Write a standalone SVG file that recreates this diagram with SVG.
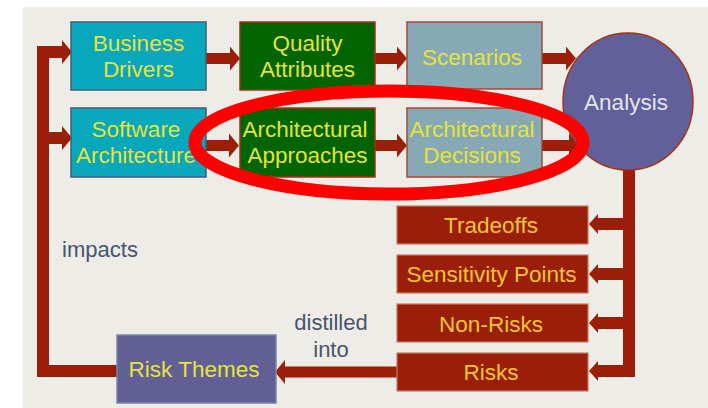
<svg xmlns="http://www.w3.org/2000/svg" width="708" height="408" viewBox="0 0 708 408">
<style>
  text { font-family: "Liberation Sans", Arial, sans-serif; font-size: 22.5px; text-anchor: middle; }
  .teal { fill: #08a7bc; stroke: #3f5d7a; stroke-width: 1.5; }
  .green { fill: #006400; stroke: #a3311c; stroke-width: 1.5; }
  .grey { fill: #87a9b5; stroke: #a04a38; stroke-width: 1.5; }
  .out { fill: #9b1f08; stroke: #c47a68; stroke-width: 1.2; }
  .theme { fill: #625f95; stroke: #7686a6; stroke-width: 1.5; }
  .ana { fill: #62609a; stroke: #a3311c; stroke-width: 1.5; }
  .yt { fill: #e6e33a; }
  .ot { fill: #f2c530; }
  .lt { fill: #45566f; font-size: 22px; }
  .wt { fill: #e4e4f2; }
  .c { fill: none; stroke: #9b1f08; stroke-width: 11; stroke-linejoin: miter; }
  .cs { fill: none; stroke: #9b1f08; stroke-width: 12; stroke-linejoin: miter; }
</style>
<defs>
  <marker id="big" markerUnits="userSpaceOnUse" markerWidth="10" markerHeight="24" refX="0" refY="12" orient="auto">
    <path d="M0,0 L10,12 L0,24 Z" fill="#9b1f08"/>
  </marker>
  <marker id="small" markerUnits="userSpaceOnUse" markerWidth="9" markerHeight="20" refX="0" refY="10" orient="auto">
    <path d="M0,0 L9,10 L0,20 Z" fill="#9b1f08"/>
  </marker>
</defs>
<rect x="23" y="7" width="685" height="401" fill="#eeece6"/>

<g id="connectors">
  <path class="c" d="M206,58.5 H230" marker-end="url(#big)"/>
  <path class="c" d="M375,58.5 H397" marker-end="url(#big)"/>
  <path class="c" d="M542,58.5 H566" marker-end="url(#big)"/>
  <path class="c" d="M206,145.5 H229" marker-end="url(#big)"/>
  <path class="c" d="M375,145.5 H397" marker-end="url(#big)"/>
  <path class="c" d="M542,145.5 H569" marker-end="url(#big)"/>
  <path class="cs" d="M117,371 H43 V52 H62" marker-end="url(#big)"/>
  <path class="cs" d="M43,138 H62" marker-end="url(#big)"/>
  <path class="cs" d="M629,168 V371 H598" marker-end="url(#small)"/>
  <path class="cs" d="M629,224 H598" marker-end="url(#small)"/>
  <path class="cs" d="M629,274 H598" marker-end="url(#small)"/>
  <path class="cs" d="M629,323 H598" marker-end="url(#small)"/>
  <path class="c" d="M397,372 H285" marker-end="url(#big)"/>
</g>

<g id="business-drivers">
  <rect class="teal" x="71" y="22" width="135" height="68"/>
  <text class="yt" x="138.5" y="51">Business</text>
  <text class="yt" x="138.5" y="77">Drivers</text>
</g>
<g id="quality-attributes">
  <rect class="green" x="240" y="22" width="135" height="68"/>
  <text class="yt" x="307.5" y="51">Quality</text>
  <text class="yt" x="307.5" y="77">Attributes</text>
</g>
<g id="scenarios">
  <rect class="grey" x="407" y="22" width="135" height="67"/>
  <text class="yt" x="472" y="65">Scenarios</text>
</g>
<g id="software-architecture">
  <rect class="teal" x="71" y="108" width="135" height="69"/>
  <text class="yt" x="136" y="137">Software</text>
  <text class="yt" x="136" y="163">Architecture</text>
</g>
<g id="architectural-approaches">
  <rect class="green" x="240" y="108" width="135" height="69"/>
  <text class="yt" x="305" y="137">Architectural</text>
  <text class="yt" x="307.5" y="163">Approaches</text>
</g>
<g id="architectural-decisions">
  <rect class="grey" x="407" y="108" width="135" height="69"/>
  <text class="yt" x="472" y="137">Architectural</text>
  <text class="yt" x="472" y="163">Decisions</text>
</g>
<g id="analysis">
  <ellipse class="ana" cx="628" cy="101.5" rx="65" ry="68.5"/>
  <text class="wt" x="626" y="110">Analysis</text>
</g>
<g id="tradeoffs">
  <rect class="out" x="397" y="206" width="191" height="38"/>
  <text class="ot" x="491" y="233">Tradeoffs</text>
</g>
<g id="sensitivity-points">
  <rect class="out" x="397" y="255" width="191" height="38"/>
  <text class="ot" x="491.5" y="282">Sensitivity Points</text>
</g>
<g id="non-risks">
  <rect class="out" x="397" y="304" width="191" height="38"/>
  <text class="ot" x="491" y="331.5">Non-Risks</text>
</g>
<g id="risks">
  <rect class="out" x="397" y="353" width="191" height="38"/>
  <text class="ot" x="491" y="380">Risks</text>
</g>
<g id="risk-themes">
  <rect class="theme" x="117" y="335" width="159" height="68"/>
  <text class="yt" x="194" y="377">Risk Themes</text>
</g>
<g id="labels">
  <text class="lt" x="100" y="257">impacts</text>
  <text class="lt" x="331" y="330">distilled</text>
  <text class="lt" x="331" y="357">into</text>
</g>
<g id="highlight">
  <ellipse cx="389" cy="142.5" rx="194" ry="51.5" fill="none" stroke="#ff0000" stroke-width="13"/>
</g>
</svg>
